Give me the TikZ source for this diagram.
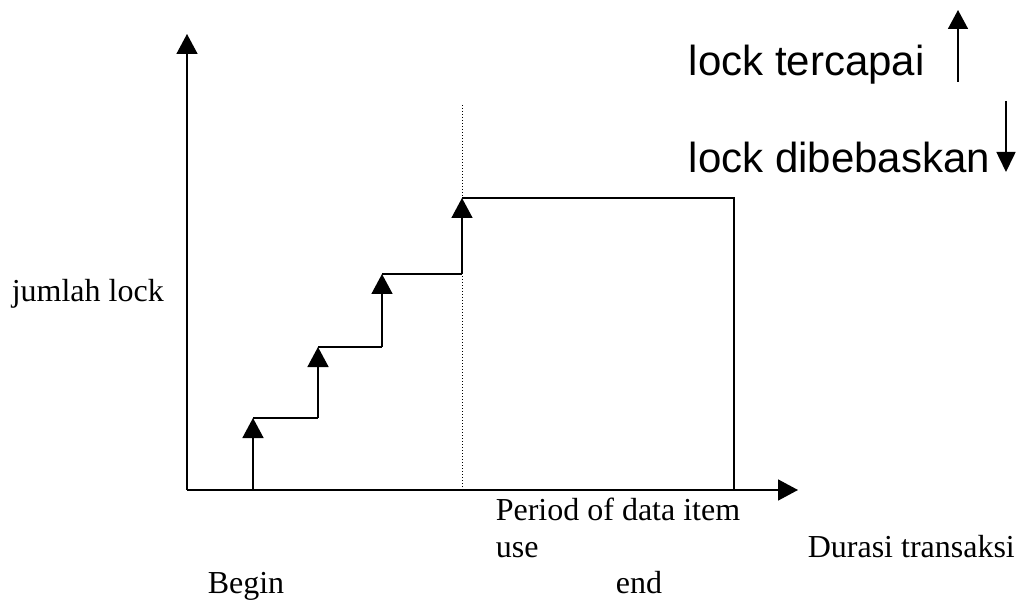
\documentclass[tikz,border=0pt]{standalone}
\usepackage{fontspec}
\setmainfont{Liberation Serif}
\newfontfamily\legendfont{Liberation Sans}
\usetikzlibrary{arrows.meta}
\begin{document}
\begin{tikzpicture}[x=1pt,y=-1pt,
  line width=1.6pt,
  tip/.style={-{Triangle[length=20pt,width=21pt]}},
  lbl/.style={anchor=base west,inner sep=0pt,font=\fontsize{32}{37}\selectfont},
  leg/.style={anchor=base west,inner sep=0pt,font=\legendfont\fontsize{42}{48}\selectfont}]
\useasboundingbox (0,0) rectangle (1021,604);
% axes
\coordinate (o) at (187,490);
\coordinate (ytop) at (187,34);
\coordinate (xend) at (798,490);
\draw[tip] (o) -- (ytop);
\draw[tip] (o) -- (xend);
% staircase of acquired locks
\coordinate (s0) at (253,490);
\coordinate (s1) at (253,418);
\coordinate (s1r) at (318,418);
\coordinate (s2) at (318,347);
\coordinate (s2r) at (382,347);
\coordinate (s3) at (382,274);
\coordinate (s3r) at (462,274);
\coordinate (s4) at (462,198);
\coordinate (s4r) at (734,198);
\coordinate (s5) at (734,490);
\draw[tip] (s0) -- (s1);
\draw (s1) -- (s1r);
\draw[tip] (s1r) -- (s2);
\draw (s2) -- (s2r);
\draw[tip] (s2r) -- (s3);
\draw (s3) -- (s3r);
\draw[tip] (s3r) -- (s4);
\draw (s4) -- (s4r) -- (s5);
% boundary of the data item use period
\coordinate (dtop) at (462,105);
\coordinate (dbot) at (462,490);
\draw[line width=1pt,dotted] (dtop) -- (dbot);
% legend
\node[leg] (acq) at (688,76) {lock tercapai};
\node[leg] (rel) at (688,173) {lock dibebaskan};
\coordinate (ua) at (958,82);
\coordinate (ub) at (958,10);
\coordinate (da) at (1006,101);
\coordinate (db) at (1006,172);
\draw[-{Triangle[length=19pt,width=20pt]}] (ua) -- (ub);
\draw[-{Triangle[length=20pt,width=19pt]}] (da) -- (db);
% labels
\node[lbl] (ylab) at (11,302) {jumlah lock};
\node[lbl] (per1) at (495,520) {Period of data item};
\node[lbl] (per2) at (495,557) {use};
\node[lbl] (xlab) at (807,557) {Durasi transaksi};
\node[lbl] (beg) at (207,593) {Begin};
\node[lbl] (fin) at (615,593) {end};
\end{tikzpicture}
\end{document}
